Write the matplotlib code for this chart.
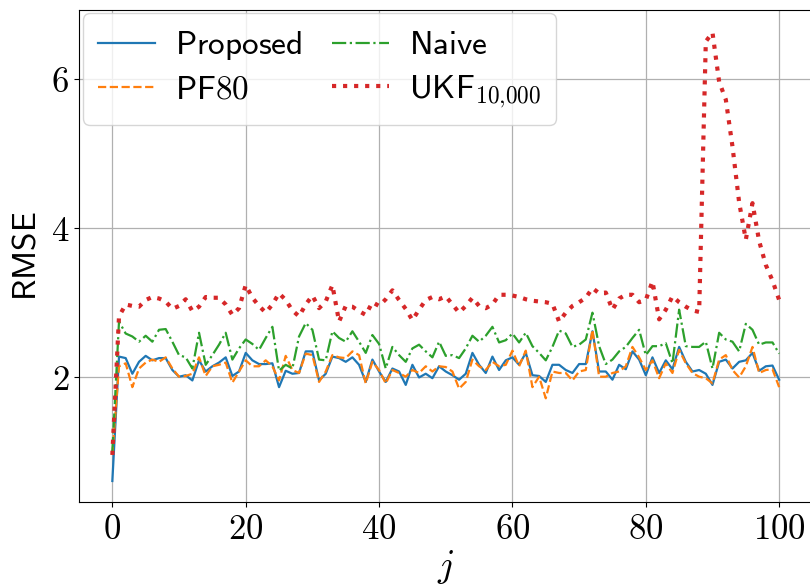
import matplotlib
matplotlib.use("Agg")
import matplotlib.pyplot as plt
from matplotlib.ticker import FuncFormatter, MultipleLocator
import numpy as np

plt.rcParams['mathtext.fontset'] = 'cm'

j = np.arange(0, 101)

proposed = [0.60, 2.27, 2.25, 2.04, 2.20, 2.28, 2.22, 2.25, 2.25, 2.09,
            2.00, 2.02, 1.95, 2.22, 2.07, 2.14, 2.19, 2.26, 2.01, 2.07,
            2.32, 2.22, 2.17, 2.17, 2.18, 1.86, 2.08, 2.04, 2.05, 2.34,
            2.34, 1.95, 2.04, 2.27, 2.25, 2.20, 2.26, 2.16, 1.93, 2.23,
            2.07, 1.93, 2.11, 2.07, 1.89, 2.16, 1.99, 2.04, 1.98, 2.14,
            2.07, 2.02, 1.96, 2.04, 2.32, 2.16, 2.05, 2.27, 2.09, 2.22,
            2.26, 2.16, 2.32, 2.02, 2.01, 1.93, 2.16, 2.16, 2.09, 2.05,
            2.17, 2.17, 2.61, 2.07, 2.07, 1.96, 2.16, 2.10, 2.34, 2.23,
            2.02, 2.26, 2.05, 2.22, 2.10, 2.40, 2.20, 2.07, 2.09, 2.04,
            1.89, 2.20, 2.23, 2.11, 2.20, 2.22, 2.32, 2.08, 2.14, 2.15,
            1.96]

pf80 = [0.95, 2.14, 2.18, 1.86, 2.11, 2.19, 2.23, 2.20, 2.26, 2.11,
        2.00, 2.01, 2.04, 2.26, 2.01, 2.14, 2.16, 2.19, 1.92, 2.07,
        2.22, 2.14, 2.14, 2.22, 2.14, 1.95, 2.28, 2.09, 2.05, 2.31,
        2.29, 1.93, 2.07, 2.29, 2.26, 2.25, 2.34, 2.29, 1.91, 2.20,
        2.09, 1.91, 2.09, 2.05, 2.00, 2.09, 2.05, 2.14, 2.07, 2.14,
        2.13, 2.07, 1.84, 1.93, 2.23, 2.14, 2.09, 2.20, 2.14, 2.16,
        2.35, 2.14, 2.35, 1.86, 2.00, 1.71, 2.07, 2.05, 2.05, 1.95,
        2.07, 2.09, 2.63, 2.00, 2.00, 2.05, 2.07, 2.14, 2.40, 2.26,
        2.09, 2.22, 1.98, 2.18, 2.05, 2.36, 2.18, 2.05, 2.00, 1.98,
        1.91, 2.23, 2.29, 2.09, 1.99, 2.14, 2.40, 2.05, 2.09, 2.10,
        1.86]

naive = [1.00, 2.74, 2.58, 2.54, 2.47, 2.55, 2.47, 2.63, 2.64, 2.47,
         2.29, 2.26, 2.11, 2.59, 2.16, 2.29, 2.43, 2.59, 2.23, 2.38,
         2.50, 2.44, 2.36, 2.52, 2.67, 2.08, 2.16, 2.11, 2.54, 2.72,
         2.63, 2.23, 2.22, 2.61, 2.52, 2.47, 2.61, 2.47, 2.32, 2.56,
         2.44, 2.11, 2.40, 2.29, 2.20, 2.38, 2.43, 2.34, 2.26, 2.47,
         2.28, 2.29, 2.25, 2.38, 2.55, 2.47, 2.55, 2.67, 2.46, 2.49,
         2.58, 2.46, 2.59, 2.41, 2.32, 2.22, 2.40, 2.62, 2.58, 2.40,
         2.43, 2.50, 2.86, 2.41, 2.17, 2.23, 2.34, 2.40, 2.52, 2.63,
         2.29, 2.41, 2.41, 2.45, 2.18, 2.90, 2.41, 2.40, 2.40, 2.47,
         2.11, 2.59, 2.50, 2.47, 2.34, 2.71, 2.63, 2.43, 2.46, 2.46,
         2.31]

ukf = [0.95, 2.81, 2.97, 2.95, 2.94, 3.03, 3.07, 3.05, 3.01, 2.91,
       2.95, 3.04, 2.88, 2.94, 3.07, 3.06, 3.06, 2.97, 2.83, 2.92,
       3.23, 3.06, 2.95, 2.86, 2.97, 3.12, 3.03, 2.89, 2.81, 2.97,
       3.09, 2.92, 3.01, 3.23, 2.74, 2.95, 2.94, 2.88, 2.83, 3.00,
       2.95, 3.04, 3.16, 3.03, 2.91, 2.76, 2.90, 3.03, 3.07, 3.04,
       3.08, 2.97, 2.86, 2.95, 3.06, 2.95, 2.92, 2.97, 3.10, 3.10,
       3.09, 3.07, 3.04, 3.02, 3.01, 3.00, 2.98, 2.74, 2.86, 2.95,
       3.00, 3.06, 3.19, 3.12, 3.13, 2.90, 3.05, 3.10, 3.10, 3.00,
       3.03, 3.28, 2.77, 2.90, 3.08, 3.00, 2.94, 2.89, 2.87, 6.50,
       6.62, 5.96, 5.72, 5.09, 4.34, 3.84, 4.33, 3.82, 3.50, 3.29,
       3.03]

labels = [r'$\mathsf{Proposed}$', r'$\mathsf{PF80}$',
          r'$\mathsf{Naive}$', r'$\mathsf{UKF}_{10{,}000}$']

fig = plt.figure(figsize=(8.1, 5.88), dpi=100)
ax = fig.add_axes([79/810, 1 - 502/588, 733.5/810, 492.5/588])

ax.plot(j, proposed, color='tab:blue', lw=1.6, ls='-', label=labels[0])
ax.plot(j, pf80, color='tab:orange', lw=1.6, ls='--', label=labels[1])
ax.plot(j, naive, color='tab:green', lw=1.6, ls='-.', label=labels[2])
ax.plot(j, ukf, color='tab:red', lw=3, ls=':', label=labels[3])

ax.set_xlim(-5, 105)
ax.set_ylim(0.318, 6.93)
ax.xaxis.set_major_locator(MultipleLocator(20))
ax.yaxis.set_major_locator(MultipleLocator(2))
fmt = FuncFormatter(lambda v, p: f'${v:g}$')
ax.xaxis.set_major_formatter(fmt)
ax.yaxis.set_major_formatter(fmt)
ax.tick_params(labelsize=25)
ax.grid(True, color='#b0b0b0', lw=0.9)

ax.set_xlabel(r'$j$', fontsize=27, labelpad=2)
ax.set_ylabel(r'$\mathsf{RMSE}$', fontsize=24, labelpad=6)

ax.legend(loc='upper left', ncol=2, fontsize=24, handlelength=1.7,
          columnspacing=0.9, handletextpad=0.6, labelspacing=0.3,
          borderaxespad=0.12, borderpad=0.45)

fig.savefig('out.png', dpi=100)
